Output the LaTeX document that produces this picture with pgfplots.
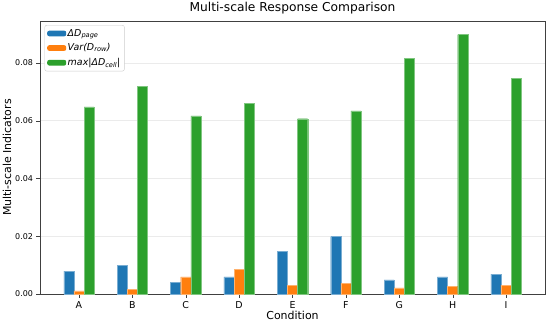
\documentclass[border=0pt]{standalone}
\usepackage{fontspec}
\setmainfont{DejaVu Sans}
\usepackage{pgfplots}
\pgfplotsset{compat=1.18}
\definecolor{tabblue}{HTML}{1F77B4}
\definecolor{taborange}{HTML}{FF7F0E}
\definecolor{tabgreen}{HTML}{2CA02C}
\begin{document}
\begin{tikzpicture}
\begin{axis}[
  name=ax,
  scale only axis, width=505bp, height=273bp,
  xmin=-0.73, xmax=8.73, ymin=0, ymax=0.0945,
  xtick={0,1,2,3,4,5,6,7,8},
  xticklabels={A,B,C,D,E,F,G,H,I},
  ytick={0,0.02,0.04,0.06,0.08},
  yticklabel style={/pgf/number format/fixed, /pgf/number format/fixed zerofill, /pgf/number format/precision=2},
  scaled y ticks=false,
  /pgf/number format/assume math mode=true,
  tick align=outside, tick pos=left, major tick length=3.5bp,
  ymajorgrids, grid style={black!8, line width=0.6pt},
  axis line style={black!75},
  tick style={black!75},
  yticklabel style={font=\fontsize{8}{9}\selectfont},
  xticklabel style={font=\fontsize{9.5}{10}\selectfont, yshift=-0.5bp},
  label style={font=\fontsize{11}{12}\selectfont},
  title style={font=\fontsize{12.3}{14}\selectfont, yshift=-3bp},
  xlabel style={yshift=4bp},
  ylabel style={yshift=-3bp},
  title={Multi-scale Response Comparison},
  xlabel={Condition}, ylabel={Multi-scale Indicators},
  ybar, bar width=0.19,
  legend cell align=left,
  legend style={at={(0.009,0.985)}, anchor=north west, draw=black!20, rounded corners=2bp,
    font=\fontsize{9.5}{10}\selectfont, row sep=3bp, inner sep=2.5bp,
    nodes={inner sep=1.5bp}},
  legend image code/.code={\fill[#1, draw=none] (0bp,-2.8bp) rectangle (19bp,2.8bp);},
]
\addplot[fill=tabblue, draw=tabblue!60!white, line width=0.3pt, bar shift=-0.19] coordinates {
(0,0.0079) (1,0.0099) (2,0.0040) (3,0.0059) (4,0.0148) (5,0.0199) (6,0.0049) (7,0.0059) (8,0.0069)};
\addplot[fill=taborange, draw=taborange!60!white, line width=0.3pt, bar shift=0] coordinates {
(0,0.0011) (1,0.0016) (2,0.0059) (3,0.0085) (4,0.0029) (5,0.0037) (6,0.0021) (7,0.0026) (8,0.0031)};
\addplot[fill=tabgreen, draw=tabgreen!60!white, line width=0.3pt, bar shift=0.19] coordinates {
(0,0.0648) (1,0.0718) (2,0.0617) (3,0.0659) (4,0.0607) (5,0.0634) (6,0.0816) (7,0.0898) (8,0.0747)};
\legend{{\itshape ΔD\textsubscript{page}},{\itshape Var(D\textsubscript{row})},{\itshape max|ΔD\textsubscript{cell}|}}
\end{axis}
\pgfresetboundingbox
\path ([xshift=-40bp,yshift=-32bp]ax.south west) rectangle ([xshift=5bp,yshift=21bp]ax.north east);
\end{tikzpicture}
\end{document}
